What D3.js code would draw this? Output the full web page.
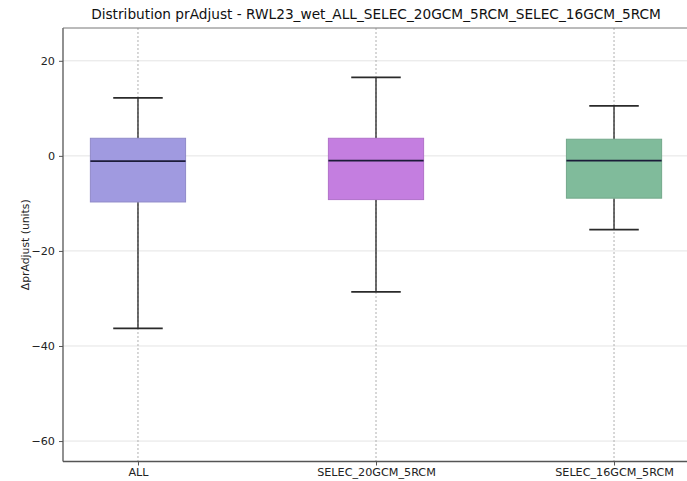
<!DOCTYPE html>
<html>
<head>
<meta charset="utf-8">
<script src="https://cdn.jsdelivr.net/npm/d3@7"></script>
<style>
  html, body { margin: 0; padding: 0; background: #fff; }
  svg { display: block; font-family: "DejaVu Sans", sans-serif; }
</style>
</head>
<body>
<svg id="chart" width="687" height="481"></svg>
<script>
// Box plot statistics per ensemble
const categories = ["ALL", "SELEC_20GCM_5RCM", "SELEC_16GCM_5RCM"];
const whiskerHigh = [12.2, 16.5, 10.5];
const q3 = [3.7, 3.7, 3.5];
const medians = [-1.1, -1.0, -1.0];
const q1 = [-9.7, -9.2, -8.9];
const whiskerLow = [-36.3, -28.6, -15.5];
const boxColors = ["#a09ae0", "#c47ee0", "#80bb9b"];
const yTicks = [20, 0, -20, -40, -60];
const title = "Distribution prAdjust - RWL23_wet_ALL_SELEC_20GCM_5RCM_SELEC_16GCM_5RCM";
const yLabel = "ΔprAdjust (units)";

const svg = d3.select("#chart");
const plot = { left: 63, right: 689, top: 28, bottom: 461.5 };

const x = d3.scalePoint().domain(categories).range([plot.left, plot.right]).padding(0.315);
const y = d3.scaleLinear().domain([-64.3, 26.9]).range([plot.bottom, plot.top]);

const step = x.step();
const boxW = step * 0.4;
const capW = boxW * 0.52;

// horizontal grid
svg.append("g").selectAll("line").data(yTicks).join("line")
  .attr("x1", plot.left).attr("x2", plot.right)
  .attr("y1", d => y(d)).attr("y2", d => y(d))
  .attr("stroke", "#e4e4e4").attr("stroke-width", 1);

// vertical dotted grid at category positions
svg.append("g").selectAll("line").data(categories).join("line")
  .attr("x1", d => x(d)).attr("x2", d => x(d))
  .attr("y1", plot.top).attr("y2", plot.bottom)
  .attr("stroke", "#b0b0b0").attr("stroke-width", 1)
  .attr("stroke-dasharray", "2,2");

const data = categories.map((c, i) => ({
  c, hi: whiskerHigh[i], q3: q3[i], med: medians[i], q1: q1[i], lo: whiskerLow[i], color: boxColors[i]
}));

const g = svg.append("g").selectAll("g").data(data).join("g");

// whisker stems
g.append("line")
  .attr("x1", d => x(d.c)).attr("x2", d => x(d.c))
  .attr("y1", d => y(d.hi)).attr("y2", d => y(d.q3))
  .attr("stroke", "#333").attr("stroke-width", 1.4);
g.append("line")
  .attr("x1", d => x(d.c)).attr("x2", d => x(d.c))
  .attr("y1", d => y(d.q1)).attr("y2", d => y(d.lo))
  .attr("stroke", "#333").attr("stroke-width", 1.4);

// caps
g.append("line")
  .attr("x1", d => x(d.c) - capW / 2).attr("x2", d => x(d.c) + capW / 2)
  .attr("y1", d => y(d.hi)).attr("y2", d => y(d.hi))
  .attr("stroke", "#2a2a2a").attr("stroke-width", 1.8);
g.append("line")
  .attr("x1", d => x(d.c) - capW / 2).attr("x2", d => x(d.c) + capW / 2)
  .attr("y1", d => y(d.lo)).attr("y2", d => y(d.lo))
  .attr("stroke", "#2a2a2a").attr("stroke-width", 1.8);

// boxes
g.append("rect")
  .attr("x", d => x(d.c) - boxW / 2).attr("width", boxW)
  .attr("y", d => y(d.q3)).attr("height", d => y(d.q1) - y(d.q3))
  .attr("fill", d => d.color)
  .attr("stroke", d => d3.color(d.color).darker(0.3)).attr("stroke-width", 1);

// medians
g.append("line")
  .attr("x1", d => x(d.c) - boxW / 2).attr("x2", d => x(d.c) + boxW / 2)
  .attr("y1", d => y(d.med)).attr("y2", d => y(d.med))
  .attr("stroke", "#1c1c3a").attr("stroke-width", 1.8);

// axes
const yAxis = svg.append("g").attr("transform", `translate(${plot.left},0)`)
  .call(d3.axisLeft(y).tickValues(yTicks).tickSize(4).tickPadding(4).tickFormat(d3.format("d")));
const xAxis = svg.append("g").attr("transform", `translate(0,${plot.bottom})`)
  .call(d3.axisBottom(x).tickSize(4).tickPadding(3));

[yAxis, xAxis].forEach(a => {
  a.select(".domain").remove();
  a.selectAll(".tick line").attr("stroke", "#555");
  a.selectAll(".tick text").attr("fill", "#222").style("font-size", "11.2px")
    .style("font-family", "'DejaVu Sans', sans-serif");
});
yAxis.selectAll(".tick text").text(d => d < 0 ? "\u2212" + Math.abs(d) : d);

// frame: left, bottom spines and top border
svg.append("line").attr("x1", plot.left).attr("x2", plot.left)
  .attr("y1", plot.top).attr("y2", plot.bottom).attr("stroke", "#555").attr("stroke-width", 1.3);
svg.append("line").attr("x1", plot.left).attr("x2", plot.right)
  .attr("y1", plot.bottom).attr("y2", plot.bottom).attr("stroke", "#555").attr("stroke-width", 1.3);
svg.append("line").attr("x1", plot.left).attr("x2", plot.right)
  .attr("y1", plot.top).attr("y2", plot.top).attr("stroke", "#777").attr("stroke-width", 1);

// title
svg.append("text")
  .attr("x", (plot.left + plot.right) / 2).attr("y", 19)
  .attr("text-anchor", "middle")
  .style("font-size", "13.7px").attr("fill", "#111")
  .text(title);

// y label
svg.append("text")
  .attr("transform", `translate(25,${(plot.top + plot.bottom) / 2}) rotate(-90)`)
  .attr("text-anchor", "middle").attr("dy", "0.35em")
  .style("font-size", "10.8px").attr("fill", "#222")
  .text(yLabel);
</script>
</body>
</html>
